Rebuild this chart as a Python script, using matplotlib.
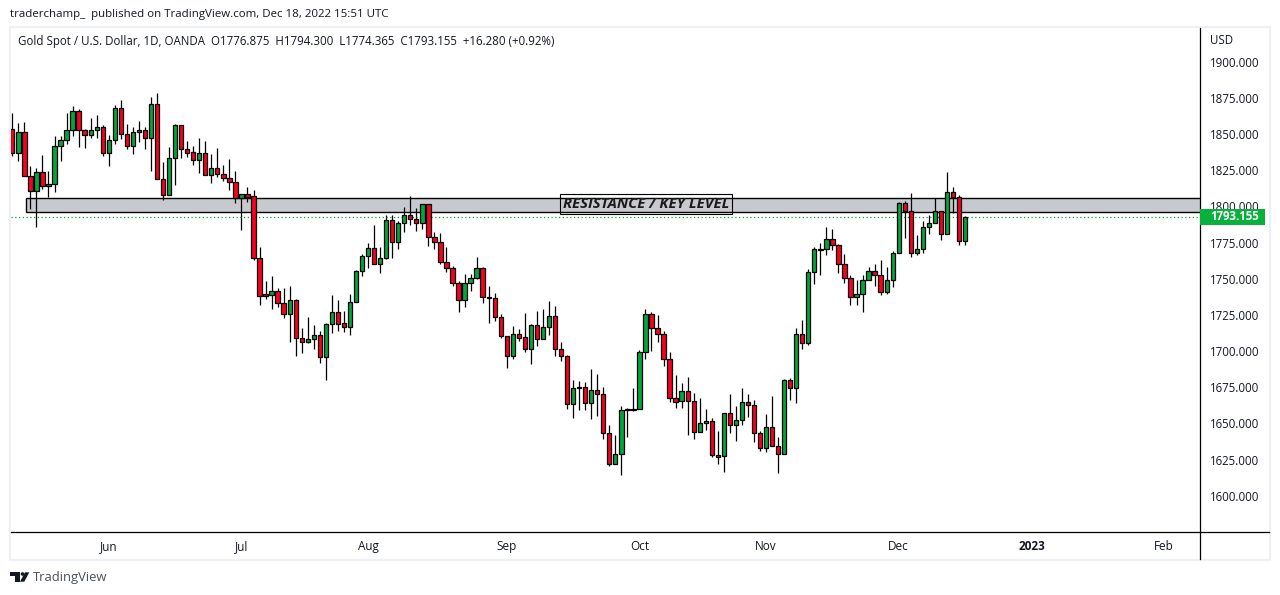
import numpy as np
import matplotlib
matplotlib.use("Agg")
import matplotlib.pyplot as plt
from matplotlib.patches import Rectangle, Polygon, Circle
from matplotlib.transforms import ScaledTranslation

opens = [1854.0,1837.8,1851.9,1821.5,1811.1,1824.2,1814.6,1815.9,1842.2,1846.4,
1853.3,1866.4,1853.3,1850.3,1853.3,1855.3,1837.4,1846.4,1868.5,1850.5,
1842.2,1851.9,1853.3,1847.7,1871.2,1819.4,1808.3,1833.9,1856.7,1840.1,
1838.1,1832.5,1837.4,1822.2,1827.0,1822.9,1820.1,1817.3,1806.7,1809.0,
1807.6,1764.8,1739.9,1739.7,1742.0,1733.7,1726.1,1735.7,1709.5,1707.2,
1708.8,1711.5,1696.3,1719.1,1727.4,1719.8,1717.1,1734.4,1755.8,1766.2,
1771.7,1760.6,1764.8,1791.0,1775.8,1789.0,1794.5,1791.7,1789.0,1802.1,
1779.3,1775.8,1762.0,1757.9,1747.5,1735.7,1747.5,1750.9,1757.9,1737.8,
1737.1,1724.1,1710.9,1697.1,1712.3,1710.2,1701.9,1718.5,1708.9,1717.1,
1724.8,1701.9,1697.1,1663.9,1675.7,1675.7,1664.6,1673.6,1670.8,1643.9,
1622.5,1629.4,1660.5,1660.5,1660.5,1699.9,1726.1,1716.5,1712.3,1695.0,
1668.1,1666.0,1672.9,1666.0,1644.6,1650.8,1652.2,1628.7,1628.0,1657.7,
1649.4,1652.8,1665.3,1663.2,1643.8,1633.5,1648.0,1634.8,1629.3,1680.5,
1674.9,1712.3,1706.0,1755.1,1771.0,1771.0,1777.9,1773.8,1760.6,1751.0,
1737.8,1739.9,1749.6,1755.8,1753.0,1741.3,1749.6,1768.2,1802.8,1797.3,
1768.2,1771.0,1786.2,1789.0,1797.3,1781.4,1810.4,1807.0,1776.875]

closes = [1837.8,1851.9,1821.5,1811.1,1824.2,1814.6,1815.9,1842.2,1846.4,1853.3,
1866.4,1853.3,1850.3,1853.3,1855.3,1837.4,1846.4,1868.5,1850.5,1842.2,
1851.9,1853.3,1847.7,1871.2,1819.4,1808.3,1833.9,1856.7,1840.1,1837.8,
1832.5,1837.4,1822.2,1827.0,1822.9,1820.1,1817.3,1806.7,1809.0,1807.4,
1764.8,1739.0,1739.0,1742.0,1733.7,1726.1,1735.7,1709.5,1707.2,1708.8,
1711.5,1696.3,1719.1,1727.4,1719.6,1717.1,1734.4,1755.8,1766.2,1771.7,
1760.6,1764.8,1791.0,1775.8,1789.0,1794.5,1791.7,1789.0,1802.1,1779.3,
1775.8,1762.0,1757.9,1747.5,1735.7,1747.5,1750.9,1757.9,1737.8,1737.1,
1724.0,1710.9,1697.1,1712.3,1710.0,1701.9,1718.5,1708.9,1717.1,1724.8,
1701.9,1697.1,1663.9,1675.0,1675.0,1664.6,1673.6,1670.8,1643.9,1622.5,
1629.4,1659.8,1659.8,1660.0,1699.9,1726.1,1716.5,1712.3,1695.0,1668.1,
1665.8,1672.9,1666.0,1644.6,1650.8,1652.2,1628.7,1627.8,1657.7,1649.4,
1652.9,1665.3,1663.2,1643.8,1633.5,1648.0,1634.8,1629.3,1680.5,1674.9,
1712.3,1706.0,1755.1,1771.0,1770.8,1777.9,1773.8,1760.6,1751.0,1737.8,
1739.9,1749.6,1755.8,1753.0,1741.3,1749.6,1768.2,1802.8,1797.3,1768.2,
1771.0,1786.2,1789.0,1797.3,1781.4,1810.4,1807.0,1776.5,1793.155]

highs = [1865.0,1858.1,1858.8,1828.6,1827.0,1836.2,1824.9,1849.1,1849.3,1865.0,
1869.9,1867.8,1854.0,1861.6,1863.6,1856.7,1849.8,1870.5,1874.0,1857.4,
1855.3,1859.5,1855.3,1876.1,1878.8,1831.1,1841.5,1857.4,1856.7,1845.7,
1842.2,1847.7,1845.7,1836.7,1840.8,1829.1,1833.2,1824.9,1809.0,1813.9,
1811.8,1772.4,1749.1,1752.3,1744.0,1744.3,1745.4,1736.4,1716.4,1724.2,
1718.7,1714.3,1719.8,1739.2,1735.7,1728.4,1739.9,1756.5,1767.5,1775.1,
1787.6,1772.4,1794.5,1794.5,1790.3,1800.0,1807.9,1799.3,1802.1,1802.1,
1782.7,1782.0,1772.4,1759.2,1749.1,1753.7,1753.7,1765.5,1758.5,1745.4,
1740.6,1726.1,1710.9,1718.1,1715.8,1727.1,1719.2,1728.4,1729.6,1735.3,
1731.9,1706.8,1697.8,1680.7,1680.1,1679.4,1688.1,1684.9,1675.9,1649.4,
1642.7,1662.8,1661.2,1675.2,1701.5,1729.8,1727.5,1725.7,1714.4,1699.9,
1684.0,1678.7,1682.8,1671.5,1668.3,1660.7,1654.2,1645.3,1657.7,1670.8,
1662.8,1674.9,1671.0,1666.6,1645.2,1657.2,1669.6,1641.3,1681.2,1681.8,
1716.6,1722.2,1757.2,1772.4,1775.2,1786.4,1784.8,1774.5,1767.6,1753.0,
1749.6,1753.0,1758.6,1760.6,1763.4,1758.6,1769.6,1804.0,1804.2,1809.7,
1780.7,1790.6,1794.5,1806.3,1797.3,1824.2,1813.9,1808.3,1794.3]

lows = [1835.8,1832.1,1821.5,1798.9,1786.7,1812.7,1807.4,1810.9,1832.1,1843.8,
1849.3,1841.7,1841.1,1848.0,1848.0,1835.8,1828.6,1843.8,1847.3,1840.4,
1836.9,1845.0,1840.4,1825.2,1819.4,1805.1,1808.3,1815.5,1834.1,1834.8,
1829.1,1823.8,1822.2,1816.9,1821.0,1818.2,1812.0,1803.0,1784.4,1803.7,
1763.9,1732.5,1736.7,1729.7,1731.1,1723.5,1706.9,1697.5,1699.6,1706.5,
1701.9,1692.7,1680.9,1713.2,1714.8,1713.8,1711.8,1734.4,1752.6,1758.1,
1760.6,1754.6,1764.1,1765.0,1771.2,1783.0,1787.8,1783.7,1785.0,1773.3,
1771.2,1760.6,1755.3,1745.6,1727.7,1731.1,1742.2,1750.3,1733.9,1720.1,
1721.5,1709.8,1689.0,1695.5,1707.7,1700.1,1691.8,1704.2,1708.9,1711.8,
1697.3,1693.9,1660.7,1654.5,1660.0,1660.0,1653.8,1655.9,1640.0,1621.3,
1622.5,1615.1,1641.3,1659.3,1660.5,1695.3,1700.8,1707.0,1690.4,1665.5,
1661.4,1661.4,1642.7,1640.0,1644.6,1646.2,1627.5,1622.7,1617.2,1644.1,
1638.6,1649.6,1655.1,1637.8,1631.8,1631.2,1634.8,1616.6,1629.3,1666.9,
1664.8,1702.1,1704.7,1747.0,1753.3,1767.1,1770.5,1754.7,1747.7,1732.5,
1732.5,1727.7,1749.6,1745.7,1739.4,1740.1,1745.0,1768.2,1778.8,1765.9,
1767.1,1768.7,1781.4,1789.0,1777.2,1781.4,1795.9,1774.2,1774.365]

x_tick_pos = [16, 38, 59, 82, 104, 125, 147, 169, 191]
x_tick_labels = ["Jun", "Jul", "Aug", "Sep", "Oct", "Nov", "Dec", "2023", "Feb"]
y_ticks = [1600, 1625, 1650, 1675, 1700, 1725, 1750, 1775, 1800, 1825, 1850, 1875, 1900]
last_price = 1793.155
band_low, band_high = 1796.6, 1806.3
band_start = 2.2
box_x0, box_x1 = 90.9, 119.3
box_low, box_high = 1795.2, 1809.05

GREEN = "#00a83c"
RED = "#f80020"
W, H = 1280, 595
FONT = ["Open Sans", "DejaVu Sans"]
TXT = "#131722"
plt.rcParams["font.family"] = FONT

fig = plt.figure(figsize=(W / 100, H / 100), dpi=100, facecolor="white")

# full-figure pixel layer for the page chrome
bg = fig.add_axes([0, 0, 1, 1], zorder=0)
bg.set_xlim(0, W)
bg.set_ylim(H, 0)
bg.axis("off")
bg.add_patch(Rectangle((10, 27), 1260, 533, fill=False, ec="#eef0f7", lw=1.6))
bg.text(10, 15, "traderchamp_  published on TradingView.com, Dec 18, 2022 15:51 UTC",
        fontsize=8.25, color=TXT, va="center", ha="left")
bg.add_patch(Polygon([(10, 572.3), (20, 572.3), (20, 581.7), (14.5, 581.7), (14.5, 576), (10, 576)], fc="#131722", ec="none"))
bg.add_patch(Circle((22.5, 574), 1.8, fc="#131722", ec="none"))
bg.add_patch(Polygon([(25, 572.3), (29.3, 572.3), (24.3, 581.7), (20, 581.7)], fc="#131722", ec="none"))
bg.text(33, 577, "TradingView", fontsize=9.4, color="#4a4f5c", va="center", ha="left")

L, R, T, B = 11, 1200, 28, 532
ax = fig.add_axes([L / W, 1 - B / H, (R - L) / W, (B - T) / H], zorder=1)
ax.set_facecolor("white")
ax.set_xlim(-0.216, 196.96)
ax.set_ylim(1575.7, 1924.0)

n = len(opens)
idx = np.arange(n)
o, h, l, c = map(np.array, (opens, highs, lows, closes))
colors = [GREEN if ci >= oi else RED for oi, ci in zip(o, c)]

ax.add_patch(Rectangle((band_start, band_low), 197, band_high - band_low,
                       fc="#c8c9ce", ec="black", lw=1.0, zorder=1))
ax.vlines(idx, l, h, color="black", lw=0.9, zorder=2)
ax.bar(idx, np.abs(c - o), bottom=np.minimum(o, c), width=0.72, color=colors,
       edgecolor="black", linewidth=0.9, zorder=3)
ax.axhline(last_price, color=GREEN, lw=0.9, ls=(0, (1, 2)), zorder=2.5)

ax.add_patch(Rectangle((box_x0, box_low), box_x1 - box_x0, box_high - box_low,
                       fill=False, ec="black", lw=0.8, zorder=5))
ax.text((box_x0 + box_x1) / 2, 1802.2, "RESISTANCE / KEY LEVEL", fontsize=10.7, fontweight="bold",
        fontstyle="italic", color="#1a1a1a", ha="center", va="center", zorder=5)

for s in ("top", "left"):
    ax.spines[s].set_visible(False)
ax.spines["right"].set_linewidth(0.9)
ax.spines["bottom"].set_linewidth(0.9)

ax.yaxis.tick_right()
ax.set_yticks(y_ticks)
ax.set_yticklabels([f"{v:.3f}" for v in y_ticks])
ax.tick_params(axis="y", length=0, pad=7, labelsize=8.3, labelcolor=TXT)
up_one_px = ScaledTranslation(0, 1 / 100, fig.dpi_scale_trans)
for lab in ax.get_yticklabels():
    lab.set_transform(lab.get_transform() + up_one_px)
ax.set_xticks(x_tick_pos)
ax.set_xticklabels(x_tick_labels)
ax.tick_params(axis="x", length=0, pad=6, labelsize=8.5, labelcolor=TXT)
for lab in ax.get_xticklabels():
    if lab.get_text() == "2023":
        lab.set_fontweight("bold")

# overlay elements in pixel layer above the chart
top = fig.add_axes([0, 0, 1, 1], zorder=2)
top.set_xlim(0, W)
top.set_ylim(H, 0)
top.axis("off")
top.plot([1200, 1200], [532, 559], color="black", lw=0.9)
top.plot([1200, 1269], [532, 532], color="black", lw=0.9)
top.text(18, 41, "Gold Spot / U.S. Dollar, 1D, OANDA  O1776.875  H1794.300  L1774.365  C1793.155  +16.280 (+0.92%)",
         fontsize=8.32, color=TXT, va="center", ha="left")
top.text(1210, 41, "USD", fontsize=8.3, color=TXT, va="center", ha="left")
top.add_patch(Rectangle((1200, 209), 65, 16, fc="#0ab03c", ec="none"))
top.text(1210, 217, f"{last_price:.3f}", fontsize=8.3, fontweight="bold", color="white", va="center", ha="left")

fig.savefig("out.png", dpi=100, facecolor="white")
